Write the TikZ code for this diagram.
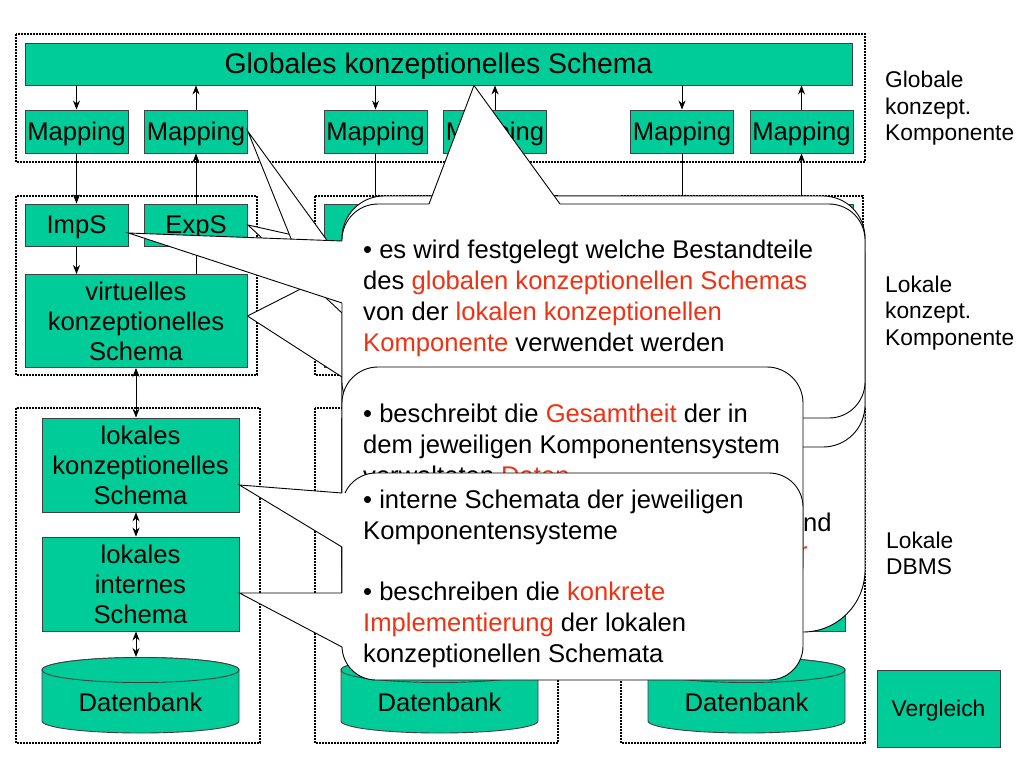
\documentclass[tikz,border=0pt]{standalone}
\usepackage{fontspec}
\setmainfont{Liberation Sans}
\usepackage{tikz}
\usetikzlibrary{shapes,arrows,arrows.meta,calc}
\definecolor{boxgreen}{RGB}{0,204,153}
\definecolor{hired}{RGB}{240,50,20}
\newcommand{\redtext}[1]{\textcolor{hired}{#1}}
% pointer of a callout: apex, two base points, shift into the body
\newcommand{\callpointer}[4]{%
	\fill[white] #1 -- #2 -- ($#2+#4$) -- ($#3+#4$) -- #3 -- cycle;
	\draw[bubbleline] #2 -- #1 -- #3;}
\tikzstyle{greenbox} = [draw=black!75, fill=boxgreen, line width=0.9pt, inner sep=0pt, align=center, font=\fontsize{25.6}{30}\selectfont]
\tikzstyle{oneline} = [text height=23.2pt, text depth=5.4pt]
\tikzstyle{titlebox} = [greenbox, text height=25.7pt, text depth=6pt, minimum width=827pt, minimum height=42pt, font=\fontsize{28.4}{32}\selectfont]
\tikzstyle{mapbox} = [greenbox, oneline, minimum width=103pt, minimum height=43pt]
\tikzstyle{smallbox} = [greenbox, oneline, minimum width=103pt, minimum height=42pt]
\tikzstyle{virtbox} = [greenbox, minimum width=222pt, minimum height=93pt]
\tikzstyle{lokbox} = [greenbox, minimum width=197pt, minimum height=94pt]
\tikzstyle{dbshape} = [draw=black!75, fill=boxgreen, line width=0.9pt]
\tikzstyle{dbtext} = [inner sep=0pt, font=\fontsize{25.6}{30}\selectfont]
\tikzstyle{dotframe} = [line width=1.6pt, dash pattern=on 1.6pt off 1.4pt]
\tikzstyle{sidetext} = [anchor=west, inner sep=0pt, align=left, font=\fontsize{22.75}{26.5}\selectfont]
\tikzstyle{flowArrow} = [line width=0.9pt,->,>={Stealth[length=9pt,width=7pt]}]
\tikzstyle{bothArrow} = [flowArrow,<->]
\tikzstyle{bubbleline} = [line width=0.9pt]
\tikzstyle{bubble} = [draw=black, fill=white, line width=0.9pt]
\tikzstyle{bubbletext} = [anchor=north west, inner sep=0pt, align=left, font=\fontsize{25.6}{31}\selectfont]

\begin{document}
\begin{tikzpicture}[x=1pt,y=1pt]
		\fill[white] (0,0) rectangle (1024,-768);
		%frames
		\draw[dotframe] (16,-34) rectangle (865,-162);
		\draw[dotframe] (16,-196) rectangle (257,-375);
		\draw[dotframe] (315,-196) rectangle (557,-375);
		\draw[dotframe] (621,-196) rectangle (863,-375);
		\draw[dotframe] (16,-408) rectangle (260,-743);
		\draw[dotframe] (315,-408) rectangle (558,-743);
		\draw[dotframe] (621,-408) rectangle (865,-743);
		
		%databases
		\filldraw[dbshape] (42,-670) -- (42,-721) arc[start angle=180,end angle=360,x radius=98.5pt,y radius=12pt] -- (239,-670) arc[start angle=0,end angle=180,x radius=98.5pt,y radius=12.5pt] -- cycle;
		\draw[dbshape] (140.5,-670) ellipse[x radius=98.5pt,y radius=12.5pt];
		\filldraw[dbshape] (341,-670) -- (341,-721) arc[start angle=180,end angle=360,x radius=98.5pt,y radius=12pt] -- (538,-670) arc[start angle=0,end angle=180,x radius=98.5pt,y radius=12.5pt] -- cycle;
		\draw[dbshape] (439.5,-670) ellipse[x radius=98.5pt,y radius=12.5pt];
		\filldraw[dbshape] (648,-670) -- (648,-721) arc[start angle=180,end angle=360,x radius=98.5pt,y radius=12pt] -- (845,-670) arc[start angle=0,end angle=180,x radius=98.5pt,y radius=12.5pt] -- cycle;
		\draw[dbshape] (746.5,-670) ellipse[x radius=98.5pt,y radius=12.5pt];
		\coordinate (dbtop1) at (136,-657);
		\coordinate (dbtop2) at (435,-657);
		\coordinate (dbtop3) at (742,-657);
		
		%blocks
		\node[titlebox] (glob) at (438.5,-64) {Globales konzeptionelles Schema};
		\node[mapbox] (map1) at (76.5,-131.5) {Mapping};
		\node[mapbox] (map2) at (196,-131.5) {Mapping};
		\node[mapbox] (map3) at (375.5,-131.5) {Mapping};
		\node[mapbox] (map4) at (495,-131.5) {Mapping};
		\node[mapbox] (map5) at (682,-131.5) {Mapping};
		\node[mapbox] (map6) at (801.5,-131.5) {Mapping};
		\node[smallbox, below of=map1, node distance=93.5pt] (imps1) {ImpS};
		\node[smallbox, below of=map2, node distance=93.5pt] (exps1) {ExpS};
		\node[smallbox, below of=map3, node distance=93.5pt] (imps2) {ImpS};
		\node[smallbox, below of=map4, node distance=93.5pt] (exps2) {ExpS};
		\node[smallbox, below of=map5, node distance=93.5pt] (imps3) {ImpS};
		\node[smallbox, below of=map6, node distance=93.5pt] (exps3) {ExpS};
		\node[virtbox] (virt1) at (136,-321) {virtuelles\\konzeptionelles\\Schema};
		\node[virtbox] (virt2) at (435,-321) {virtuelles\\konzeptionelles\\Schema};
		\node[virtbox] (virt3) at (742,-321) {virtuelles\\konzeptionelles\\Schema};
		\node[lokbox] (lks1) at (140.5,-465) {lokales\\konzeptionelles\\Schema};
		\node[lokbox] (lks2) at (439.5,-465) {lokales\\konzeptionelles\\Schema};
		\node[lokbox] (lks3) at (746.5,-465) {lokales\\konzeptionelles\\Schema};
		\node[lokbox, below of=lks1, node distance=119pt] (lis1) {lokales\\internes\\Schema};
		\node[lokbox, below of=lks2, node distance=119pt] (lis2) {lokales\\internes\\Schema};
		\node[lokbox, below of=lks3, node distance=119pt] (lis3) {lokales\\internes\\Schema};
		\node[dbtext] (db1) at (140.5,-702) {Datenbank};
		\node[dbtext] (db2) at (439.5,-702) {Datenbank};
		\node[dbtext] (db3) at (746.5,-702) {Datenbank};
		\node[greenbox, text height=20.6pt, text depth=4.8pt, minimum width=123pt, minimum height=77pt, font=\fontsize{22.75}{26}\selectfont] (vgl) at (938.5,-708.5) {Vergleich};
		
		%labels
		\node[sidetext] (lglob) at (885,-108.5) {Globale\\konzept.\\Komponente};
		\node[sidetext] (llok) at (885,-313) {Lokale\\konzept.\\Komponente};
		\node[sidetext] (ldbms) at (886,-553.5) {Lokale\\DBMS};
		
		%arrows
		\draw[flowArrow](map1.north |- glob.south)--(map1.north);
		\draw[flowArrow](map2.north)--(map2.north |- glob.south);
		\draw[flowArrow](map3.north |- glob.south)--(map3.north);
		\draw[flowArrow](map4.north)--(map4.north |- glob.south);
		\draw[flowArrow](map5.north |- glob.south)--(map5.north);
		\draw[flowArrow](map6.north)--(map6.north |- glob.south);
		\draw[flowArrow](map1.south)--(imps1.north);
		\draw[flowArrow](exps1.north)--(map2.south);
		\draw[flowArrow](map3.south)--(imps2.north);
		\draw[flowArrow](exps2.north)--(map4.south);
		\draw[flowArrow](map5.south)--(imps3.north);
		\draw[flowArrow](exps3.north)--(map6.south);
		\draw[flowArrow](imps1.south)--(imps1.south |- virt1.north);
		\draw[flowArrow](exps1.south |- virt1.north)--(exps1.south);
		\draw[flowArrow](imps2.south)--(imps2.south |- virt2.north);
		\draw[flowArrow](exps2.south |- virt2.north)--(exps2.south);
		\draw[flowArrow](imps3.south)--(imps3.south |- virt3.north);
		\draw[flowArrow](exps3.south |- virt3.north)--(exps3.south);
		\draw[bothArrow](virt1.south)--(virt1.south |- lks1.north);
		\draw[bothArrow](lks1.south -| virt1.south)--(lis1.north -| virt1.south);
		\draw[bothArrow](lis1.south -| virt1.south)--(dbtop1);
		\draw[bothArrow](virt2.south)--(virt2.south |- lks2.north);
		\draw[bothArrow](lks2.south -| virt2.south)--(lis2.north -| virt2.south);
		\draw[bothArrow](lis2.south -| virt2.south)--(dbtop2);
		\draw[bothArrow](virt3.south)--(virt3.south |- lks3.north);
		\draw[bothArrow](lks3.south -| virt3.south)--(lis3.north -| virt3.south);
		\draw[bothArrow](lis3.south -| virt3.south)--(dbtop3);
		
		%callouts, back to front
		\draw[bubble, rounded corners=62pt] (342,-196) rectangle (865,-632);
		\node[bubbletext, anchor=west] (frag1) at (803,-522) {nd};
		\node[bubbletext, anchor=west, text=hired] (frag2) at (799,-554) {r};
		\callpointer{([yshift=5pt]virt1.east)}{(342,-268)}{(342,-377)}{(4,0)}
		
		\draw[bubble, rounded corners=42pt] (342,-196) rectangle (865,-447);
		\callpointer{(exps1.east)}{(342,-246)}{(342,-313)}{(4,0)}
		\callpointer{(map2.east)}{(300,-261)}{(342,-261)}{(4,0)}
		
		\draw[bubble, rounded corners=36pt] (342,-204) rectangle (865,-418);
		\callpointer{([xshift=35.5pt]glob.south)}{(429,-204)}{(560,-204)}{(0,-4)}
		\callpointer{([yshift=-8pt]imps1.east)}{(342,-241)}{(342,-303)}{(4,0)}
		\node[bubbletext] (txtglob) at (363,-240) {• es wird festgelegt welche Bestandteile\\
			des \redtext{globalen konzeptionellen Schemas}\\
			von der \redtext{lokalen konzeptionellen}\\
			\redtext{Komponente} verwendet werden};
		
		\draw[bubble, rounded corners=36pt] (342,-367) rectangle (803,-600);
		\node[bubbletext] (txtdaten) at (363,-404) {• beschreibt die \redtext{Gesamtheit} der in\\
			dem jeweiligen Komponentensystem\\
			verwalteten \redtext{Daten}};
		
		\draw[bubble, rounded corners=34pt] (342,-473) rectangle (803,-680);
		\callpointer{([yshift=-20pt]lks1.east)}{(342,-493)}{(342,-547)}{(4,0)}
		\callpointer{([yshift=-9pt]lis1.east)}{(342,-593)}{(342,-647)}{(4,0)}
		\node[bubbletext] (txtintern) at (363,-490) {• interne Schemata der jeweiligen\\
			Komponentensysteme\\[30pt]
			• beschreiben die \redtext{konkrete}\\
			\redtext{Implementierung} der lokalen\\
			konzeptionellen Schemata};
	\end{tikzpicture}
\end{document}
